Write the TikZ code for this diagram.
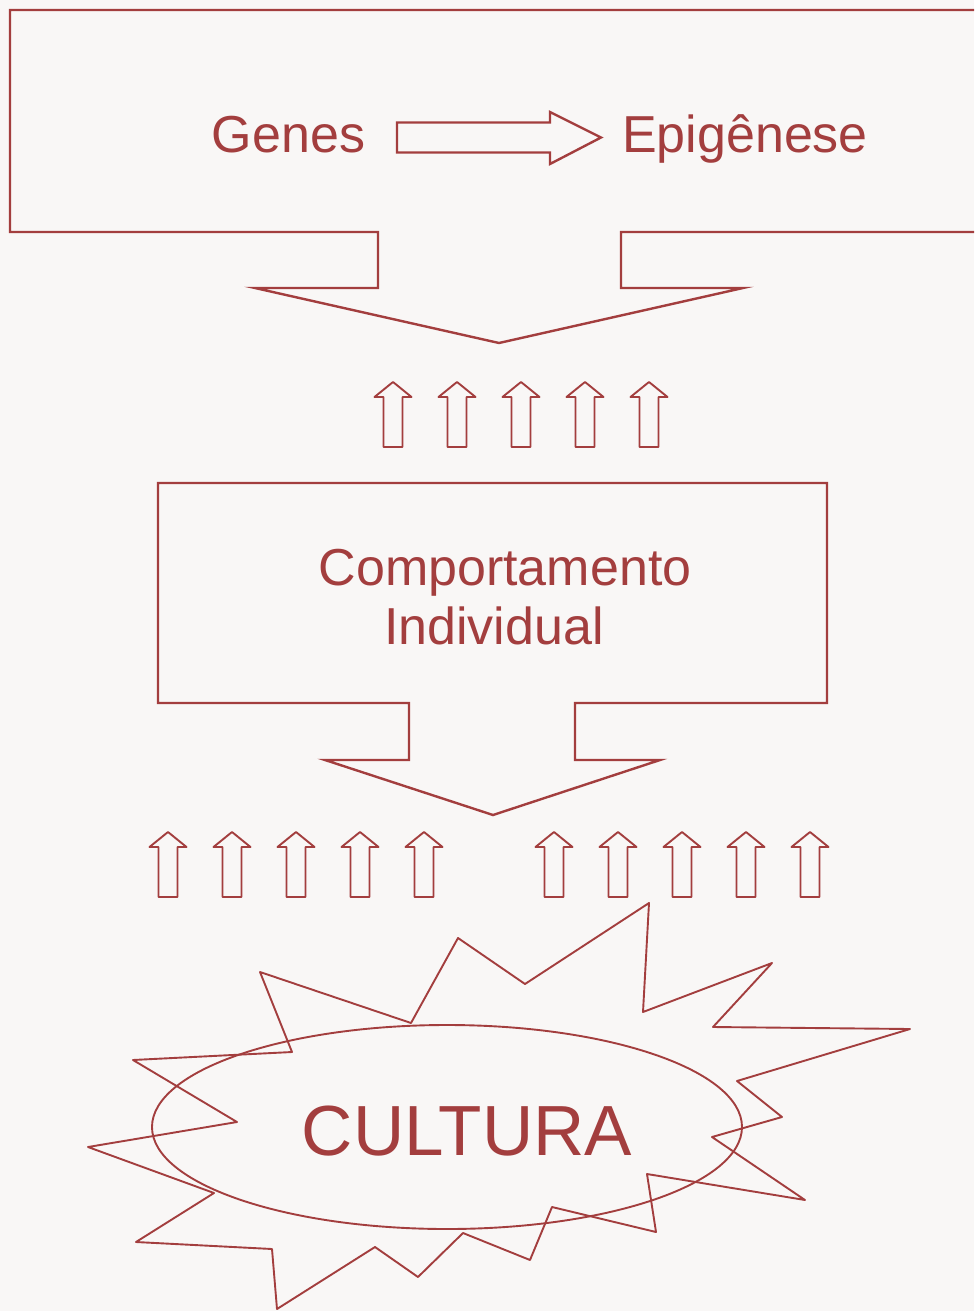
\documentclass[tikz,border=0pt]{standalone}
\usepackage{fontspec}
\setmainfont{Liberation Sans}
\usetikzlibrary{shapes.geometric}
\definecolor{vinho}{RGB}{163,62,62}
\definecolor{fundo}{RGB}{249,247,246}

\begin{document}
\begin{tikzpicture}[
  x=1pt, y=-1pt,
  contorno/.style={draw=vinho, line width=2.4pt},
  fino/.style={draw=vinho, line width=1.9pt, line join=round},
  rotulo/.style={text=vinho, inner sep=0pt, anchor=base, font=\fontsize{52}{59}\selectfont},
  setinha/.pic={\draw[fino] (0,0) -- (18.5,15) -- (9.5,15) -- (9.5,65) -- (-9.5,65) -- (-9.5,15) -- (-18.5,15) -- cycle;}
]
\fill[fundo] (0,0) rectangle (974,1311);
\useasboundingbox (0,0) rectangle (974,1311);

% caixa de cima, aberta a direita
\draw[contorno] (974,10) -- (10,10) -- (10,232) -- (378,232) -- (378,288) -- (255,288)
  -- (499,343) -- (743,288) -- (621,288) -- (621,232) -- (974,232);
\node[rotulo] (genes) at (288.5,153) {Genes};
\node[rotulo] (epi) at (745,153) {Epigênese};
\coordinate (s0) at (397,137.5);
\coordinate (s1) at (601,137.5);
\draw[contorno] (s0) ++(0,-15) -- ++(153,0) -- ++(0,-10.5) -- (s1) -- ++(-51,26.5)
  -- ++(0,-11.5) -- ++(-153,0) -- cycle;

\foreach \x in {393,457,521,585,649}
  \pic at (\x,382) {setinha};

% caixa do meio
\draw[contorno] (158,483) -- (827,483) -- (827,703) -- (575,703) -- (575,760) -- (660,760)
  -- (493,815) -- (325,760) -- (409,760) -- (409,703) -- (158,703) -- cycle;
\node[rotulo] (comp) at (505,585) {Comportamento};
\node[rotulo] (indiv) at (494,644) {Individual};

\foreach \x in {168,232,296,360,424,554,618,682,746,810}
  \pic at (\x,832) {setinha};

% explosao
\draw[fino] (649,903) -- (643,1012) -- (772,963) -- (713,1027) -- (910,1029) -- (737,1081)
  -- (782,1117) -- (712,1137) -- (805,1200) -- (647,1174) -- (656,1232) -- (552,1207)
  -- (530,1260) -- (463,1233) -- (418,1277) -- (375,1247) -- (277,1309) -- (272,1249)
  -- (136,1242) -- (214,1193) -- (88,1147) -- (237,1122) -- (133,1060) -- (292,1052)
  -- (260,972) -- (411,1023) -- (458,938) -- (525,984) -- cycle;
\node[draw=vinho, line width=1.9pt, ellipse, minimum width=590pt, minimum height=204pt,
  inner sep=0pt] (elipse) at (447,1127) {};
\node[rotulo, font=\fontsize{71}{80}\selectfont] (cultura) at (467,1155) {CULTURA};
\end{tikzpicture}
\end{document}
